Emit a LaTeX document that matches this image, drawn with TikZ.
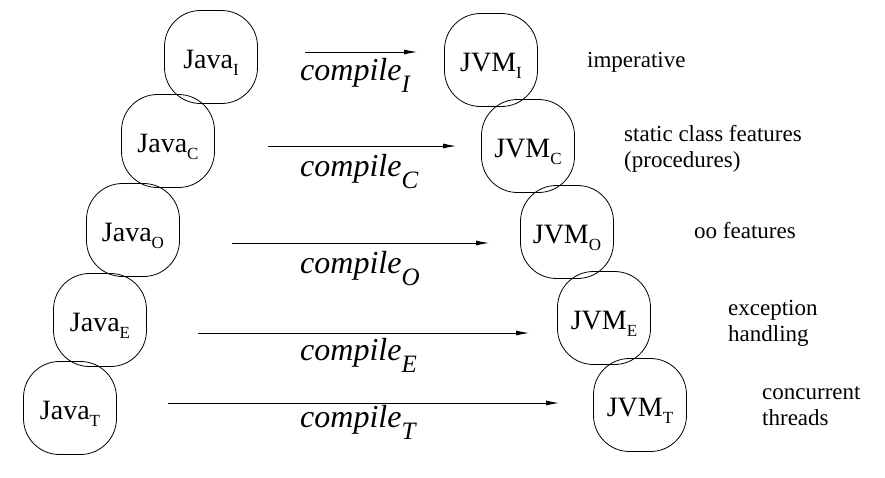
\documentclass[tikz,border=0pt]{standalone}
\usepackage{fontspec}
\setmainfont{Liberation Serif}
\usetikzlibrary{arrows.meta}
\newcommand\nsub[1]{\raisebox{-7pt}{\fontsize{17}{17}\selectfont #1}}
\newcommand\csub[1]{\raisebox{-12pt}{\fontsize{25}{25}\selectfont #1}}
\tikzset{
  blob/.style={draw, line width=0.8pt, rounded corners=36pt, minimum width=93pt,
    minimum height=93pt, inner sep=0pt, text height=22pt, text depth=0pt,
    font=\fontsize{28}{28}\selectfont},
  comp/.style={anchor=base west, inner sep=0pt, font=\fontsize{32}{32}\selectfont\itshape},
  note/.style={anchor=west, inner sep=0pt, align=left, font=\fontsize{23}{26}\selectfont},
  arr/.style={line width=0.8pt, -{Latex[length=13pt,width=5pt]}}
}
\begin{document}
\begin{tikzpicture}[x=1pt,y=-1pt]
\useasboundingbox (0,0) rectangle (885,477);
% Java nodes
\node[blob] (jI) at (211,57)  {Java\nsub{I}};
\node[blob] (jC) at (168,141) {Java\nsub{C}};
\node[blob] (jO) at (133,230) {Java\nsub{O}};
\node[blob] (jE) at (100,320) {Java\nsub{E}};
\node[blob] (jT) at (70,408)  {Java\nsub{T}};
% JVM nodes
\node[blob] (vI) at (491,60)  {JVM\nsub{I}};
\node[blob] (vC) at (528,146) {JVM\nsub{C}};
\node[blob] (vO) at (567,232) {JVM\nsub{O}};
\node[blob] (vE) at (604,318) {JVM\nsub{E}};
\node[blob] (vT) at (640,405) {JVM\nsub{T}};
% arrow end points
\coordinate (aI1) at (305,52);  \coordinate (aI2) at (417,52);
\coordinate (aC1) at (268,146); \coordinate (aC2) at (456,146);
\coordinate (aO1) at (232,243); \coordinate (aO2) at (489,243);
\coordinate (aE1) at (198,333); \coordinate (aE2) at (529,333);
\coordinate (aT1) at (168,403); \coordinate (aT2) at (559,403);
\draw[arr] (aI1) -- (aI2);
\draw[arr] (aC1) -- (aC2);
\draw[arr] (aO1) -- (aO2);
\draw[arr] (aE1) -- (aE2);
\draw[arr] (aT1) -- (aT2);
% compile labels
\node[comp] (cI) at (300,80)  {compile\csub{I}};
\node[comp] (cC) at (300,176) {compile\csub{C}};
\node[comp] (cO) at (300,273) {compile\csub{O}};
\node[comp] (cE) at (300,360) {compile\csub{E}};
\node[comp] (cT) at (300,427) {compile\csub{T}};
% notes
\node[note] (nI) at (587,62)  {imperative};
\node[note] (nC) at (624,149) {static class features\\(procedures)};
\node[note] (nO) at (694,231) {oo features};
\node[note] (nE) at (728,323) {exception\\handling};
\node[note] (nT) at (762,406) {concurrent\\threads};
\end{tikzpicture}
\end{document}
